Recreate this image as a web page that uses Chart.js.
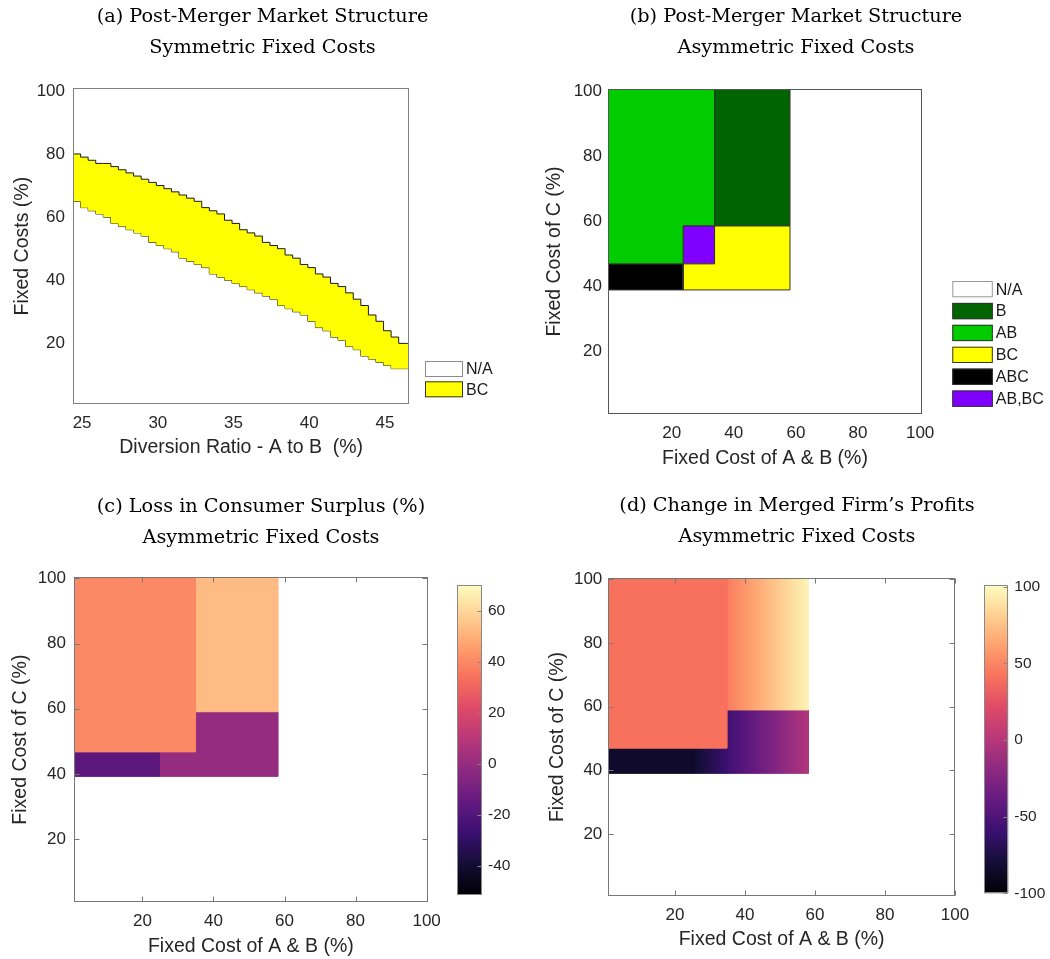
<!DOCTYPE html>
<html>
<head>
<meta charset="utf-8">
<title>Post-merger market structure</title>
<script src="https://cdn.jsdelivr.net/npm/chart.js@4/dist/chart.umd.min.js"></script>
<style>
  html, body { margin: 0; padding: 0; background: #fff; overflow: hidden; }
  #fig { position: relative; width: 1050px; height: 959px; }
  #fig canvas { position: absolute; }
</style>
</head>
<body>
<div id="fig">
  <canvas id="panelA" width="525" height="470" style="left:0;top:0;width:525px;height:470px"></canvas>
  <canvas id="panelB" width="525" height="470" style="left:525px;top:0;width:525px;height:470px"></canvas>
  <canvas id="panelC" width="525" height="489" style="left:0;top:470px;width:525px;height:489px"></canvas>
  <canvas id="panelD" width="525" height="489" style="left:525px;top:470px;width:525px;height:489px"></canvas>
  <canvas id="barC" width="70" height="340" style="left:457px;top:570px;width:70px;height:340px"></canvas>
  <canvas id="barD" width="66" height="340" style="left:984px;top:570px;width:66px;height:340px"></canvas>
</div>
<script>
// ---------- data ----------
// (a) symmetric fixed costs: band where BC is the outcome
const divRatio = [24.4, 24.9, 25.4, 25.9, 26.4, 26.9, 27.4, 27.9, 28.4, 28.9, 29.4, 29.9, 30.4, 30.9, 31.4, 31.9,
  32.4, 32.9, 33.4, 33.9, 34.4, 34.9, 35.4, 35.9, 36.4, 36.9, 37.4, 37.9, 38.4, 38.9, 39.4, 39.9, 40.4, 40.9,
  41.4, 41.9, 42.4, 42.9, 43.4, 43.9, 44.4, 44.9, 45.4, 45.9, 46.4, 46.6];
const bcUpper = [81, 80, 79, 78, 77, 77, 76, 75, 74, 73, 72, 71, 70, 69, 68, 67, 66, 65, 63, 62, 61, 59, 58, 56,
  55, 54, 52, 51, 50, 48, 47, 45, 44, 42, 41, 39, 38, 36, 34, 32, 29, 27, 24, 22, 20, 20];
const bcLower = [66, 65, 63, 62, 61, 60, 58, 57, 56, 55, 54, 52, 51, 50, 49, 47, 46, 45, 44, 42, 41, 40, 39, 38,
  37, 36, 35, 34, 32, 31, 30, 29, 27, 25, 24, 22, 21, 19, 18, 16, 15, 14, 13, 12, 12, 12];
const aXTicks = [25, 30, 35, 40, 45];
const aYTicks = [20, 40, 60, 80, 100];
const aLegendLabels = ['N/A', 'BC'];
const aLegendColors = ['#ffffff', '#ffff00'];

// (b) asymmetric fixed costs: structure regions as polygon corners
const abX = [-0.4, 23.7, 23.7, 33.8, 33.8, -0.4, -0.4];
const abY = [46.9, 46.9, 58.6, 58.6, 100.6, 100.6, 46.9];
const bX = [33.8, 58.1, 58.1, 33.8, 33.8];
const bY = [58.6, 58.6, 100.6, 100.6, 58.6];
const bcX = [23.7, 58.1, 58.1, 33.8, 33.8, 23.7, 23.7];
const bcY = [38.9, 38.9, 58.6, 58.6, 46.9, 46.9, 38.9];
const abcX = [-0.4, 23.7, 23.7, -0.4, -0.4];
const abcY = [38.9, 38.9, 46.9, 46.9, 38.9];
const abbcX = [23.7, 33.8, 33.8, 23.7, 23.7];
const abbcY = [46.9, 46.9, 58.6, 58.6, 46.9];
const bLegendLabels = ['N/A', 'B', 'AB', 'BC', 'ABC', 'AB,BC'];
const bLegendColors = ['#ffffff', '#006400', '#00cc00', '#ffff00', '#000000', '#8000ff'];
const costTicks = [20, 40, 60, 80, 100];

// (c) loss in consumer surplus (%), one value per rectangle
const cX0 = [0.75, 34.9, 0.75, 24.7, 34.9];
const cX1 = [34.9, 58.1, 24.7, 58.1, 58.1];
const cY0 = [46.8, 59.1, 39.3, 39.3, 46.8];
const cY1 = [100.3, 100.3, 46.8, 46.8, 59.1];
const cValue = [40, 53, -17, 0, 0];
const cLimits = [-51.4, 70.1];
const cBarTicks = [-40, -20, 0, 20, 40, 60];

// (d) change in merged firm's profits, value at left and right edge of each rectangle
const dX0 = [0.95, 34.8, 0.95, 25.1, 34.8];
const dX1 = [34.8, 58.1, 25.1, 34.8, 58.1];
const dY0 = [47.0, 59.0, 39.1, 39.1, 39.1];
const dY1 = [100.3, 100.3, 47.0, 47.0, 59.0];
const dValueLeft = [41, 46, -84, -84, -58];
const dValueRight = [41, 97, -84, -60, -2];
const dLimits = [-100, 101];
const dBarTicks = [-100, -50, 0, 50, 100];

// ---------- style ----------
const sans = '"Liberation Sans", Arial, Helvetica, sans-serif';
const serif = '"DejaVu Serif", serif';
const ink = '#262626';
Chart.defaults.font.family = sans;
Chart.defaults.color = ink;

const magmaStops = ['#000004', '#140e36', '#3b0f70', '#641a80', '#8c2981', '#b73779',
  '#de4968', '#f7705c', '#fe9f6d', '#fecf92', '#fcfdbf'];

function hexRgb(h) {
  return [1, 3, 5].map(i => parseInt(h.slice(i, i + 2), 16));
}

function magma(t) {
  t = Math.max(0, Math.min(1, t));
  const s = t * 10;
  const i = Math.min(9, Math.floor(s));
  const f = s - i;
  const a = hexRgb(magmaStops[i]), b = hexRgb(magmaStops[i + 1]);
  return 'rgb(' + a.map((v, k) => Math.round(v + (b[k] - v) * f)).join(',') + ')';
}

// colour of a rectangle whose value runs from vL (left edge) to vR (right edge)
function regionColor(x0, x1, vL, vR, lim) {
  const norm = v => (v - lim[0]) / (lim[1] - lim[0]);
  return ctx => {
    const chart = ctx.chart;
    const sx = chart.scales.x;
    if (vL === vR || !chart.chartArea || !sx) return magma(norm(vL));
    const g = chart.ctx.createLinearGradient(sx.getPixelForValue(x0), 0, sx.getPixelForValue(x1), 0);
    for (let k = 0; k <= 10; k++) {
      g.addColorStop(k / 10, magma(norm(vL + (vR - vL) * k / 10)));
    }
    return g;
  };
}

function polygon(xs, ys) {
  return xs.map((x, i) => ({x, y: ys[i]}));
}

function rect(x0, x1, y0, y1) {
  return [{x: x0, y: y0}, {x: x0, y: y1}, {x: x1, y: y1}, {x: x1, y: y0}, {x: x0, y: y0}];
}

// box round the axes, inward ticks and the patch legend
const framePlugin = {
  id: 'frame',
  afterDraw(chart, args, o) {
    const {ctx, chartArea: a} = chart;
    const L = Math.round(a.left) + 0.5, T = Math.round(a.top) + 0.5;
    const R = Math.round(a.right) - 0.5, B = Math.round(a.bottom) - 0.5;
    ctx.save();
    ctx.lineWidth = 1;
    ctx.strokeStyle = o.color || '#777';
    ctx.strokeRect(L, T, R - L, B - T);
    const n = o.tickLen || 0;
    if (n) {
      ctx.beginPath();
      if (o.xTicks) {
        const sx = chart.scales.x;
        sx.ticks.forEach(t => {
          const p = Math.round(sx.getPixelForValue(t.value)) + 0.5;
          ctx.moveTo(p, B); ctx.lineTo(p, B - n);
          ctx.moveTo(p, T); ctx.lineTo(p, T + n);
        });
      }
      const sy = chart.scales.y;
      sy.ticks.forEach(t => {
        const p = Math.round(sy.getPixelForValue(t.value)) + 0.5;
        if (o.leftTicks !== false) { ctx.moveTo(L, p); ctx.lineTo(L + n, p); }
        ctx.moveTo(R, p); ctx.lineTo(R - n, p);
      });
      ctx.stroke();
    }
    const g = o.legend;
    if (g) {
      ctx.font = '16px ' + sans;
      ctx.textBaseline = 'middle';
      ctx.textAlign = 'left';
      g.labels.forEach((lab, i) => {
        const y = g.y + i * g.pitch;
        ctx.fillStyle = g.fills[i];
        ctx.fillRect(g.x, y, g.w, g.h);
        ctx.strokeStyle = g.edges[i];
        ctx.strokeRect(g.x + 0.5, y + 0.5, g.w - 1, g.h - 1);
        ctx.fillStyle = '#1a1a1a';
        ctx.fillText(lab, g.x + g.w + 3, y + g.h / 2 + 1);
      });
    }
    ctx.restore();
  }
};
Chart.register(framePlugin);

const noGrid = {display: false, drawTicks: false};

function panelOptions(p) {
  return {
    responsive: false,
    animation: false,
    events: [],
    layout: {padding: {left: p.padL, right: p.padR, top: 0, bottom: p.padB}},
    plugins: {
      legend: {display: false},
      tooltip: {enabled: false},
      title: {
        display: true, text: p.title, color: '#000',
        font: {family: serif, size: 19.3, weight: 'normal', lineHeight: '31px'},
        padding: {top: p.titleTop, bottom: p.titleBottom}
      },
      frame: {color: p.frameColor, tickLen: p.tickLen, xTicks: true, legend: p.legend}
    },
    scales: {
      x: {
        type: 'linear', min: p.xRange[0], max: p.xRange[1],
        afterBuildTicks: s => { s.ticks = p.xTicks.map(v => ({value: v})); },
        afterFit: s => { s.height = p.xH; },
        grid: noGrid, border: {display: false},
        ticks: {padding: p.xTickPad, color: ink, font: {size: 17}, maxRotation: 0, autoSkip: false},
        title: {display: true, text: p.xTitle, color: ink, font: {size: 19.5}, padding: {top: 0, bottom: p.xTitlePad}}
      },
      y: {
        type: 'linear', min: p.yRange[0], max: p.yRange[1],
        afterBuildTicks: s => { s.ticks = p.yTicks.map(v => ({value: v})); },
        afterFit: s => { s.width = p.yW; },
        grid: noGrid, border: {display: false},
        ticks: {padding: p.yTickPad, color: ink, font: {size: 17}, autoSkip: false},
        title: {display: true, text: p.yTitle, color: ink, font: {size: 19.5}, padding: {top: p.yTitlePad, bottom: 0}}
      },
      yR: {
        type: 'linear', position: 'right',
        grid: noGrid, border: {display: false}, ticks: {display: false},
        afterFit: s => { s.width = p.rightW; }
      }
    }
  };
}

function colorbar(id, lim, ticks, padTop, padBottom, width) {
  new Chart(document.getElementById(id), {
    type: 'bar',
    data: {
      labels: [''],
      datasets: [{
        data: [lim.slice()],
        backgroundColor: c => {
          const a = c.chart.chartArea;
          if (!a) return magmaStops[5];
          const g = c.chart.ctx.createLinearGradient(0, a.bottom, 0, a.top);
          magmaStops.forEach((h, i) => g.addColorStop(i / 10, h));
          return g;
        },
        borderWidth: 0, barPercentage: 1, categoryPercentage: 1
      }]
    },
    options: {
      responsive: false, animation: false, events: [],
      layout: {padding: {left: 0, right: 0, top: padTop, bottom: padBottom}},
      plugins: {
        legend: {display: false}, tooltip: {enabled: false},
        frame: {color: '#888', tickLen: 4, xTicks: false, leftTicks: false}
      },
      scales: {
        x: {display: false},
        y: {
          position: 'right', min: lim[0], max: lim[1],
          afterBuildTicks: s => { s.ticks = ticks.map(v => ({value: v})); },
          afterFit: s => { s.width = width; },
          grid: noGrid, border: {display: false},
          ticks: {padding: 6, color: ink, font: {size: 15.5}}
        }
      }
    }
  });
}

// ---------- (a) ----------
new Chart(document.getElementById('panelA'), {
  type: 'line',
  data: {
    datasets: [
      {label: 'BC', data: divRatio.map((x, i) => ({x, y: bcUpper[i]})), yAxisID: 'y', stepped: 'after',
        borderColor: '#1a1a1a', borderWidth: 1, backgroundColor: aLegendColors[1], fill: '+1', pointRadius: 0},
      {label: 'BC lower edge', data: divRatio.map((x, i) => ({x, y: bcLower[i]})), yAxisID: 'y', stepped: 'after',
        borderColor: '#1a1a1a', borderWidth: 1, fill: false, pointRadius: 0}
    ]
  },
  options: panelOptions({
    title: ['(a) Post-Merger Market Structure', 'Symmetric Fixed Costs'],
    padL: 0, padR: 0, padB: 8, titleTop: 1.5, titleBottom: 24.8,
    xRange: [24.4, 46.6], yRange: [0.8, 100.8], xTicks: aXTicks, yTicks: aYTicks,
    xTitle: 'Diversion Ratio - A to B  (%)', yTitle: 'Fixed Costs (%)',
    xH: 58, xTickPad: 9, xTitlePad: 2.8, yW: 73, yTickPad: 8, yTitlePad: 10.5, rightW: 115.7,
    frameColor: '#808080', tickLen: 0,
    legend: {x: 425, y: 361, w: 38, h: 16, pitch: 20.3, labels: aLegendLabels, fills: aLegendColors,
      edges: ['#8c8c8c', '#333333']}
  })
});

// ---------- (b) ----------
const bShapes = [[abX, abY, 2], [bX, bY, 1], [bcX, bcY, 3], [abcX, abcY, 4], [abbcX, abbcY, 5]];
new Chart(document.getElementById('panelB'), {
  type: 'line',
  data: {
    datasets: bShapes.map(([xs, ys, k]) => ({
      label: bLegendLabels[k], data: polygon(xs, ys), yAxisID: 'y',
      backgroundColor: bLegendColors[k], borderColor: '#333333', borderWidth: 1,
      fill: 'shape', pointRadius: 0
    }))
  },
  options: panelOptions({
    title: ['(b) Post-Merger Market Structure', 'Asymmetric Fixed Costs'],
    padL: 17, padR: 0, padB: 0, titleTop: 1.5, titleBottom: 25.5,
    xRange: [-0.4, 100.5], yRange: [0.8, 100.6], xTicks: costTicks, yTicks: costTicks,
    xTitle: 'Fixed Cost of A & B (%)', yTitle: 'Fixed Cost of C (%)',
    xH: 56, xTickPad: 9, xTitlePad: 0, yW: 66.3, yTickPad: 6.3, yTitlePad: 1.3, rightW: 128.3,
    frameColor: '#555555', tickLen: 0,
    legend: {x: 427.3, y: 281, w: 40.5, h: 16.3, pitch: 21.9, labels: bLegendLabels, fills: bLegendColors,
      edges: ['#999999', '#333333', '#333333', '#333333', '#333333', '#333333']}
  })
});

// ---------- (c) ----------
new Chart(document.getElementById('panelC'), {
  type: 'line',
  data: {
    datasets: cValue.map((v, i) => {
      const col = regionColor(cX0[i], cX1[i], v, v, cLimits);
      return {label: 'loss ' + v, data: rect(cX0[i], cX1[i], cY0[i], cY1[i]), yAxisID: 'y',
        backgroundColor: col, borderColor: col, borderWidth: 1, fill: 'shape', pointRadius: 0};
    })
  },
  options: panelOptions({
    title: ['(c) Loss in Consumer Surplus (%)', 'Asymmetric Fixed Costs'],
    padL: 0, padR: 3, padB: 0, titleTop: 21, titleBottom: 24.3,
    xRange: [0.75, 100.3], yRange: [0.8, 100.3], xTicks: costTicks, yTicks: costTicks,
    xTitle: 'Fixed Cost of A & B (%)', yTitle: 'Fixed Cost of C (%)',
    xH: 57, xTickPad: 9.5, xTitlePad: 0.8, yW: 74, yTickPad: 8, yTitlePad: 9, rightW: 94.3,
    frameColor: '#777777', tickLen: 5
  })
});
colorbar('barC', cLimits, cBarTicks, 7.3, 11.7, 45);

// ---------- (d) ----------
new Chart(document.getElementById('panelD'), {
  type: 'line',
  data: {
    datasets: dValueLeft.map((v, i) => {
      const col = regionColor(dX0[i], dX1[i], v, dValueRight[i], dLimits);
      return {label: 'profit ' + v, data: rect(dX0[i], dX1[i], dY0[i], dY1[i]), yAxisID: 'y',
        backgroundColor: col, borderColor: col, borderWidth: 1, fill: 'shape', pointRadius: 0};
    })
  },
  options: panelOptions({
    title: ['(d) Change in Merged Firm\u2019s Profits', 'Asymmetric Fixed Costs'],
    padL: 19, padR: 0, padB: 3, titleTop: 20.5, titleBottom: 25.8,
    xRange: [0.95, 100], yRange: [0.7, 100.3], xTicks: costTicks, yTicks: costTicks,
    xTitle: 'Fixed Cost of A & B (%)', yTitle: 'Fixed Cost of C (%)',
    xH: 60.3, xTickPad: 9.1, xTitlePad: 4.4, yW: 64.3, yTickPad: 6, yTitlePad: 1.5, rightW: 95,
    frameColor: '#777777', tickLen: 5
  })
});
colorbar('barD', dLimits, dBarTicks, 7.7, 16.7, 41.7);
</script>
</body>
</html>
